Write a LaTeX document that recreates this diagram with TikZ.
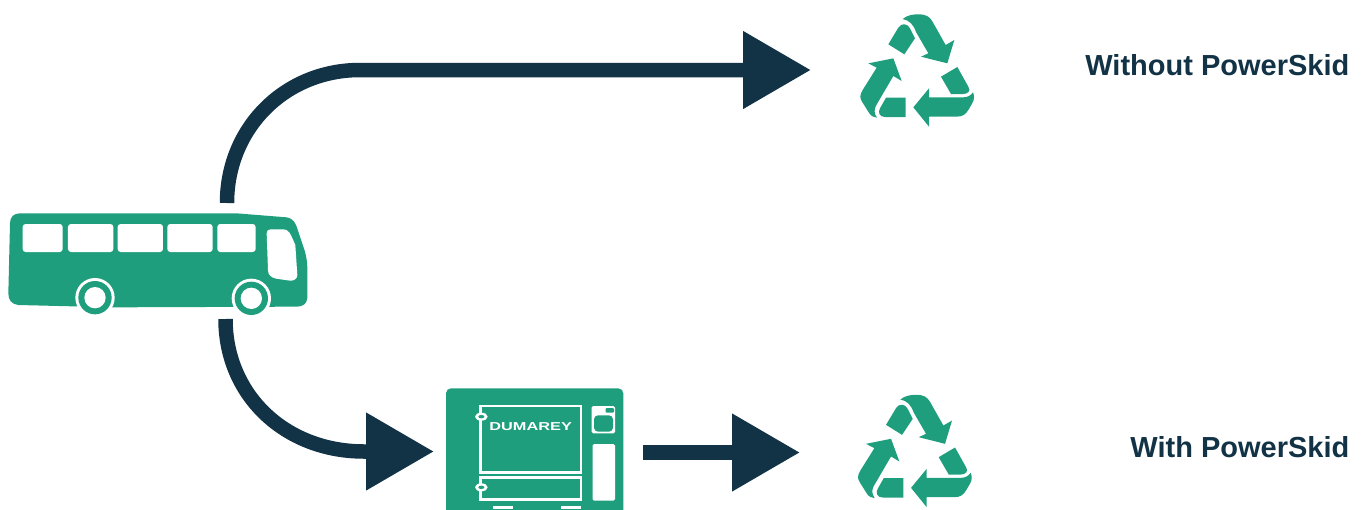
\documentclass[tikz,border=0pt]{standalone}
\usepackage{fontspec}
\setmainfont{Liberation Sans}
\usetikzlibrary{arrows.meta}
\definecolor{teal1}{HTML}{1E9E7D}
\definecolor{navy1}{HTML}{123246}
\tikzset{
  flow/.style={draw=navy1,line width=14.5pt,-{Triangle[length=68pt,width=74pt,fill=navy1]}},
  caption/.style={font=\bfseries\fontsize{29}{32}\selectfont,text=navy1,anchor=east,inner sep=0pt},
  recycleicon/.pic={
    \begin{scope}[scale=1/3]
      \fill[teal1] (158,42) .. controls (172,30) and (190,28) .. (205,28) .. controls (228,28) and (238,34) .. (247,49) -- (287,120) -- (313,105) -- (292,175) -- (213,155) -- (235,145) -- (198,81) .. controls (190,58) and (178,46) .. (158,42) -- cycle;
      \fill[teal1] (115,118) -- (145,68) .. controls (154,52) and (174,56) .. (180,70) -- (195,100) -- (163,148) -- cycle;
      \fill[teal1] (130,160) -- (55,175) -- (80,188) -- (38,255) .. controls (28,272) and (30,280) .. (36,290) -- (58,325) .. controls (64,334) and (72,337) .. (81,338) .. controls (72,325) and (72,314) .. (78,302) -- (130,213) -- (155,228) -- cycle;
      \fill[teal1] (167,278) -- (167,336) -- (105,336) .. controls (88,336) and (83,322) .. (90,310) -- (108,278) -- cycle;
      \fill[teal1] (237,250) -- (190,307) -- (237,365) -- (237,335) -- (320,335) .. controls (338,335) and (347,328) .. (355,315) -- (366,296) .. controls (374,284) and (373,272) .. (369,262) .. controls (362,272) and (352,277) .. (340,277) -- (237,277) -- cycle;
      \fill[teal1] (273,215) -- (322,186) -- (355,245) .. controls (364,258) and (352,267) .. (340,267) -- (303,267) -- cycle;
    \end{scope}
  }
}
\begin{document}
\begin{tikzpicture}[x=1pt,y=-1pt]
\useasboundingbox (0,0) rectangle (1368,509);
% anchors of the connectors
\coordinate (busTop) at (227,203);
\coordinate (busBottom) at (225.5,319);
\coordinate (skidIn) at (434,451.5);
\coordinate (skidOut) at (643,452.5);
\coordinate (recycleTop) at (811,70);
\coordinate (recycleBottom) at (800,452.5);
% connectors
\draw[flow] (busTop) .. controls (227,128) and (285,70) .. (360,70) -- (recycleTop);
\draw[flow] (busBottom) .. controls (225.5,395) and (285,451.5) .. (364,451.5) -- (skidIn);
\draw[flow] (skidOut) -- (recycleBottom);
% bus
\node[inner sep=0pt,minimum width=300pt,minimum height=103pt] (bus) at (158,264) {};
\begin{scope}[yshift=-200pt,scale=1/3]
  \fill[teal1] (30,70) .. controls (30,50) and (42,40) .. (60,40) -- (710,40) -- (860,52) .. controls (875,54) and (885,65) .. (890,80) -- (915,155) .. controls (920,175) and (922,190) .. (922,205) -- (922,295) .. controls (920,312) and (908,320) .. (890,320) -- (340,322) -- (55,315) .. controls (35,313) and (25,300) .. (25,280) -- cycle;
  \foreach \cx/\cy in {285/293,754/295}{
    \fill[white] (\cx,\cy) circle[radius=59];
    \fill[teal1] (\cx,\cy) circle[radius=50];
    \fill[white] (\cx,\cy) circle[radius=32];
  }
  \foreach \xa/\xb in {68/188,204/340,353/489,502/638,652/767}{
    \fill[white,rounded corners=3pt] (\xa,72) rectangle (\xb,156);
  }
  \fill[white] (800,100) .. controls (800,92) and (804,88) .. (812,88) -- (850,88) .. controls (866,88) and (870,98) .. (886,135) -- (892,225) .. controls (892,236) and (882,243) .. (870,242) -- (828,236) .. controls (812,232) and (804,224) .. (804,210) -- cycle;
\end{scope}
% recycling symbols
\pic (recycleA) at (850,5) {recycleicon};
\pic (recycleB) at (847.7,385.5) {recycleicon};
% PowerSkid unit
\node[inner sep=0pt,minimum width=178pt,minimum height=121pt] (skid) at (534,449) {};
\begin{scope}[xshift=435pt,yshift=-380pt,scale=1/3]
  \begin{scope}
    \clip (0,0) rectangle (640,387);
    \fill[teal1,rounded corners=5pt] (33,25) rectangle (565,420);
  \end{scope}
  \fill[white] (173,378) rectangle (233,387);
  \fill[white] (378,378) rectangle (437,387);
  \draw[white,line width=2.6pt] (137,78) rectangle (438,278);
  \draw[white,line width=2.6pt] (137,292) rectangle (438,358);
  \foreach \hy in {110,322}{
    \fill[white] (139,\hy) ellipse[x radius=19,y radius=12];
    \fill[teal1] (139,\hy) ellipse[x radius=9,y radius=5];
  }
  \fill[white,rounded corners=1.5pt] (470,78) rectangle (540,160);
  \fill[teal1,rounded corners=4pt] (477,106) rectangle (534,155);
  \fill[teal1,rounded corners=1pt] (512,84) rectangle (537,98);
  \fill[white,rounded corners=1.5pt] (473,192) rectangle (540,362);
  \node[inner sep=0pt,text=white,xscale=1.42,font=\bfseries\fontsize{11.5}{14}\selectfont] (brand) at (287,141) {DUMAREY};
\end{scope}
% captions
\node[caption] (without) at (1349.5,65) {Without PowerSkid};
\node[caption] (with) at (1349.5,447) {With PowerSkid};
\end{tikzpicture}
\end{document}
